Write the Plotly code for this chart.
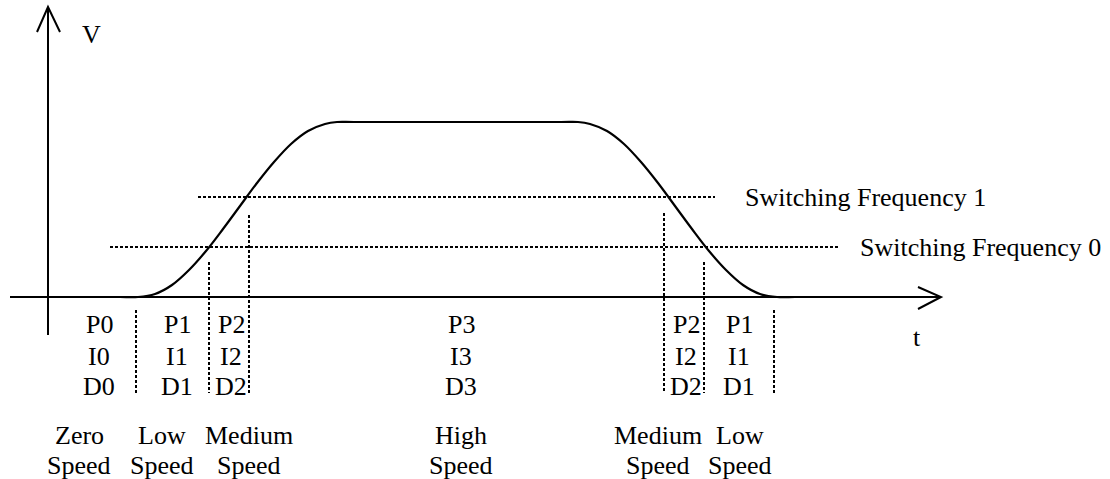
import plotly.graph_objects as go

# ---- data (t and V in drawing units; origin at the axes crossing) ----
curve_t = [52, 72, 90, 107, 124, 141, 158, 175, 192, 209, 226, 243, 260, 277, 289, 306,
           513, 530, 542, 559, 576, 593, 610, 627, 644, 661, 678, 695, 712, 729, 747, 767]
curve_v = [0, 0, 0, 3, 12, 27, 46, 68, 91, 114, 135, 153, 166, 173, 175, 175,
           175, 175, 173, 166, 153, 135, 114, 91, 68, 46, 27, 12, 3, 0, 0, 0]

sf_levels = [50, 100]
sf_start = [62, 150]
sf_end = [790, 667]
sf_labels = ["Switching Frequency 0", "Switching Frequency 1"]
sf_label_t = [810, 695]

boundary_t = [88, 161, 201, 616, 656, 726]
boundary_top = [-13, 35, 82, 84, 35, -13]
boundary_bottom = -96

col_t = [51, 129, 183, 413, 638, 691]
p_labels = ["P0", "P1", "P2", "P3", "P2", "P1"]
i_labels = ["I0", "I1", "I2", "I3", "I2", "I1"]
d_labels = ["D0", "D1", "D2", "D3", "D2", "D1"]

speed_t = [31, 114, 201, 413, 610, 692]
speed_line1 = ["Zero", "Low", "Medium", "High", "Medium", "Low"]
speed_line2 = ["Speed", "Speed", "Speed", "Speed", "Speed", "Speed"]

row_v = [-27.5, -59.5, -89.5]
speed_row_v = [-138, -168]

FONT = dict(family="Liberation Serif, Times New Roman, serif", size=26, color="black")

fig = go.Figure()

# velocity curve
fig.add_trace(go.Scatter(x=curve_t, y=curve_v, mode="lines",
                         line=dict(color="black", width=2.2, shape="spline", smoothing=1.0),
                         hoverinfo="skip", showlegend=False))

# switching frequency levels
for lvl, s, e in zip(sf_levels, sf_start, sf_end):
    fig.add_trace(go.Scatter(x=[s, e], y=[lvl, lvl], mode="lines",
                             line=dict(color="black", width=2, dash="3px,2px"),
                             hoverinfo="skip", showlegend=False))

# region boundaries
for bt, top in zip(boundary_t, boundary_top):
    fig.add_trace(go.Scatter(x=[bt, bt], y=[top, boundary_bottom], mode="lines",
                             line=dict(color="black", width=2, dash="3px,2px"),
                             hoverinfo="skip", showlegend=False))

# axes with arrowheads
ax_line = dict(color="black", width=2)
fig.add_shape(type="line", x0=0, x1=0, y0=-38, y1=290, line=ax_line)
fig.add_shape(type="path", path="M -11,265 L 0,290 L 12,265", line=ax_line)
fig.add_shape(type="line", x0=-38, x1=893, y0=0, y1=0, line=ax_line)
fig.add_shape(type="path", path="M 870,10 L 893,0 L 870,-12", line=ax_line)

anns = []
anns.append(dict(x=43, y=263, text="V"))
anns.append(dict(x=869, y=-40, text="t"))
for lbl, lt, lv in zip(sf_labels, sf_label_t, sf_levels):
    anns.append(dict(x=lt, y=lv, text=lbl, xanchor="left"))
for ct, p, i, d in zip(col_t, p_labels, i_labels, d_labels):
    for txt, rv in zip([p, i, d], row_v):
        anns.append(dict(x=ct, y=rv, text=txt))
for st, l1, l2 in zip(speed_t, speed_line1, speed_line2):
    for txt, rv in zip([l1, l2], speed_row_v):
        anns.append(dict(x=st, y=rv, text=txt))

for a in anns:
    a.setdefault("xanchor", "center")
    fig.add_annotation(**a, yanchor="middle", showarrow=False, font=FONT,
                       xref="x", yref="y")

fig.update_layout(
    width=1110, height=479,
    margin=dict(l=0, r=0, t=0, b=0),
    paper_bgcolor="white", plot_bgcolor="white",
    xaxis=dict(range=[-48, 1062], visible=False, fixedrange=True),
    yaxis=dict(range=[-182, 297], visible=False, fixedrange=True),
    showlegend=False,
)

fig.write_html("out.html",
               config={"displayModeBar": False},
               post_script="document.body.style.margin='0';document.body.style.overflow='hidden';")
